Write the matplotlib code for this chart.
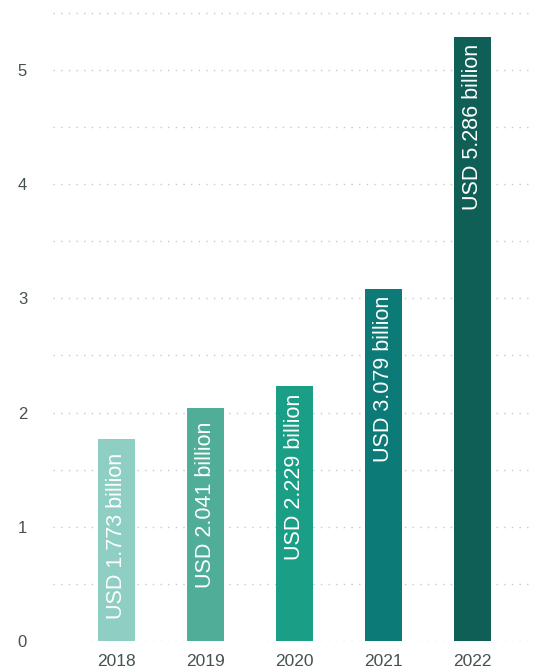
import matplotlib
matplotlib.use("Agg")
import matplotlib.pyplot as plt
from matplotlib.ticker import MultipleLocator

years = ["2018", "2019", "2020", "2021", "2022"]
revenue_bn = [1.773, 2.041, 2.229, 3.079, 5.286]
bar_labels = [f"USD {v:.3f} billion" for v in revenue_bn]
bar_colors = ["#8fcfc3", "#50ad98", "#1a9e86", "#0c7a76", "#0f5f56"]
label_pad_px = [14, 14, 7, 6, 7]

plt.rcParams["font.family"] = ["Liberation Sans", "DejaVu Sans"]

fig = plt.figure(figsize=(5.34, 6.70), dpi=100)
ax = fig.add_axes([53 / 534, 29 / 670, 1 - 53 / 534, 641 / 670])

x = list(range(len(years)))
ax.bar(x, revenue_bn, width=0.416, color=bar_colors, zorder=3)

for i, (v, txt) in enumerate(zip(revenue_bn, bar_labels)):
    ax.annotate(txt, xy=(i, v), xytext=(0, -label_pad_px[i]),
                textcoords="offset pixels", rotation=90,
                ha="center", va="top", color="white", fontsize=15.5,
                zorder=4)

ax.set_xlim(-0.71, 4.69)
ax.set_ylim(0, 641 / 114.2)
ax.set_xticks(x)
ax.set_xticklabels(years)
ax.yaxis.set_major_locator(MultipleLocator(1))
ax.yaxis.set_minor_locator(MultipleLocator(0.5))

ax.grid(axis="y", which="both", color="#c8c8c8", linestyle=(0, (1, 4.5)),
        linewidth=1.0, zorder=0)
ax.grid(axis="x", visible=False)

for s in ax.spines.values():
    s.set_visible(False)

ax.tick_params(axis="both", which="both", length=0)
ax.tick_params(axis="y", pad=22, labelsize=12, labelcolor="#46524f")
ax.tick_params(axis="x", pad=9, labelsize=12.5, labelcolor="#46524f")
for lbl in ax.get_yticklabels():
    lbl.set_horizontalalignment("center")

fig.savefig("out.png", dpi=100)
